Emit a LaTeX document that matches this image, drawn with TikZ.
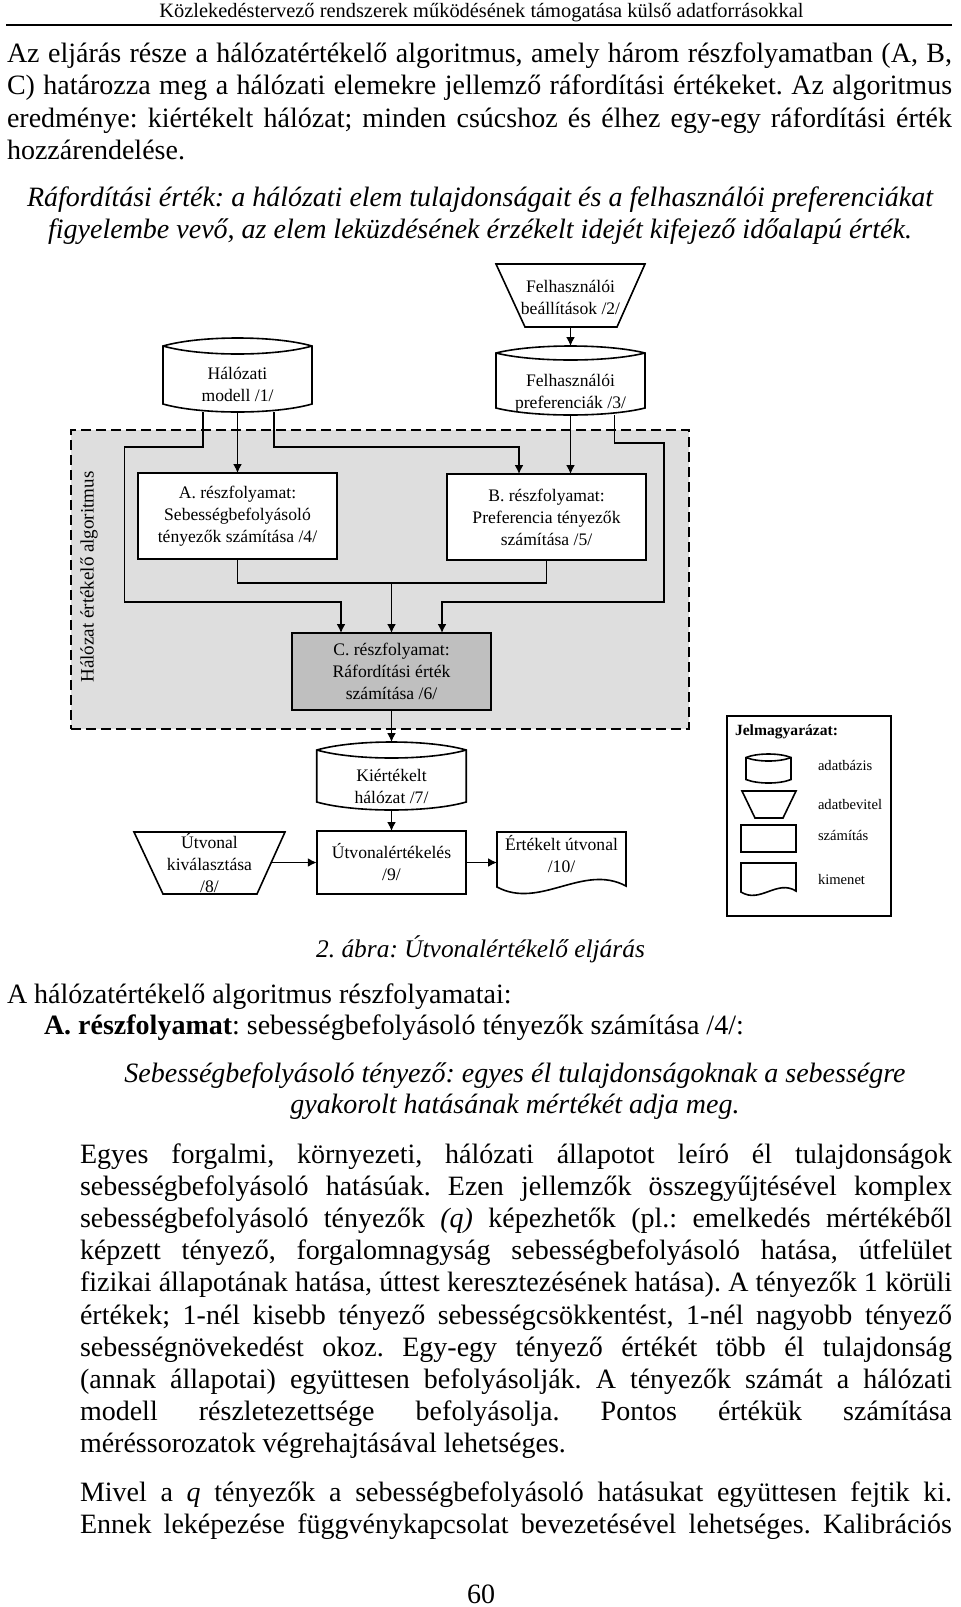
\documentclass[tikz,border=0pt]{standalone}
\usepackage{fontspec}
\setmainfont{Liberation Serif}
\usetikzlibrary{arrows.meta,fit}

\newcommand\fsz[2]{\fontsize{#1}{#2}\selectfont}
\newcommand\jl[2]{\hbox to #1{#2}}

% cylinder (database): name, L, T, R, B, d
\newcommand\cylshape[6]{%
  \node[fit={(#2,#3)(#4,#5)}, inner sep=0pt] (#1) {};
  \filldraw[ln, fill=white] (#2,{#3+#6}) .. controls ({#2+0.25*(#4-#2)},{#3-#6/3}) and ({#4-0.25*(#4-#2)},{#3-#6/3}) .. (#4,{#3+#6}) -- (#4,{#5-#6}) .. controls ({#4-0.25*(#4-#2)},{#5+#6/3}) and ({#2+0.25*(#4-#2)},{#5+#6/3}) .. (#2,{#5-#6}) -- cycle;
  \draw[ln] (#2,{#3+#6}) .. controls ({#2+0.25*(#4-#2)},{#3+7*#6/3}) and ({#4-0.25*(#4-#2)},{#3+7*#6/3}) .. (#4,{#3+#6});
}
% trapezoid (input): name, TL, TR, T, BL, BR, B
\newcommand\trapshape[7]{%
  \node[fit={(#2,#4)(#3,#7)}, inner sep=0pt] (#1) {};
  \filldraw[ln, fill=white] (#2,#4) -- (#3,#4) -- (#6,#7) -- (#5,#7) -- cycle;
}
% document (output): name, L, T, R, Bleft, Bright, controls
\newcommand\docshape[7]{%
  \node[fit={(#2,#3)(#4,#5)}, inner sep=0pt] (#1) {};
  \filldraw[ln, fill=white] (#2,#3) -- (#4,#3) -- (#4,#6) .. controls #7 .. (#2,#5) -- cycle;
}

\tikzset{
  every node/.style={inner sep=0pt, outer sep=0pt},
  ln/.style={line width=0.8pt},
  arr/.style={ln, -{Latex[length=4.5pt,width=4.5pt]}},
  bx/.style={font=\fsz{8.8}{11}, align=center},
  proc/.style={bx, draw, ln, fill=white},
  body/.style={font=\fsz{14}{16}, anchor=base west},
  ital/.style={font=\fsz{14}{16}\itshape, anchor=base},
  legtxt/.style={font=\fsz{7.3}{9}, anchor=base west},
}

\begin{document}
\frenchspacing
\begin{tikzpicture}[x=0.5pt,y=-0.5pt]
\useasboundingbox (0,0) rectangle (960,1607);
\fill[white] (0,0) rectangle (960,1607);

% header
\node[font=\fsz{10.2}{12}, anchor=base] (hdr) at (481.5,17.5) {Közlekedéstervező rendszerek működésének támogatása külső adatforrásokkal};
\coordinate (rl) at (6,25);
\coordinate (rr) at (952,25);
\draw[line width=0.85pt] (rl) -- (rr);

% first paragraph
\node[body] (p1) at (7,62) {\jl{472.5pt}{Az eljárás része a hálózatértékelő algoritmus, amely három részfolyamatban (A, B,}};
\node[body] (p2) at (7,94.5) {\jl{472.5pt}{C) határozza meg a hálózati elemekre jellemző ráfordítási értékeket. Az algoritmus}};
\node[body] (p3) at (7,127) {\jl{472.5pt}{eredménye: kiértékelt hálózat; minden csúcshoz és élhez egy-egy ráfordítási érték}};
\node[body] (p4) at (7,159) {hozzárendelése.};

\node[ital] (d1) at (480,206.5) {Ráfordítási érték: a hálózati elem tulajdonságait és a felhasználói preferenciákat};
\node[ital] (d2) at (480,238) {figyelembe vevő, az elem leküzdésének érzékelt idejét kifejező időalapú érték.};

% ---------------- diagram ----------------
\node[fit={(71,430)(689,729)}, inner sep=0pt, draw, ln, dash pattern=on 5pt off 2.5pt, fill=black!13] (reg) {};
\node[font=\fsz{9.5}{11}, rotate=90] (vlab) at (89,577) {Hálózat értékelő algoritmus};

\trapshape{n2}{496}{645}{264}{525}{617}{327}
\node[bx] (n2t) at (570.5,297) {Felhasználói\\beállítások /2/};

\cylshape{c3}{496}{346}{645}{415}{7}
\node[bx] (c3t) at (570.5,393) {Felhasználói\\preferenciák /3/};

\cylshape{c1}{163}{338}{312}{412}{8}
\node[bx] (c1t) at (237.5,384) {Hálózati\\modell /1/};

\node[proc, minimum width=99.5pt, minimum height=43pt] (A) at (237.5,516) {A. részfolyamat:\\Sebességbefolyásoló\\tényezők számítása /4/};
\node[proc, minimum width=99.5pt, minimum height=43pt] (B) at (546.5,517) {B. részfolyamat:\\Preferencia tényezők\\számítása /5/};
\node[proc, fill=black!25, minimum width=99.5pt, minimum height=38.5pt] (C) at (391.5,671.5) {C. részfolyamat:\\Ráfordítási érték\\számítása /6/};

\cylshape{c7}{316.75}{742}{466.25}{810}{8}
\node[bx] (c7t) at (391.5,786) {Kiértékelt\\hálózat /7/};

\node[proc, minimum width=74.75pt, minimum height=31.5pt] (N9) at (391.5,862.5) {Útvonalértékelés\\/9/};
\trapshape{n8}{134}{285}{832}{163}{257}{894}
\node[bx] (n8t) at (209.5,863) {Útvonal\\kiválasztása\\/8/};
\docshape{n10}{497}{832}{626}{887}{886}{(583,863) and (540,910)}
\node[bx] (n10t) at (561.5,854) {Értékelt útvonal\\/10/};

% connectors
\coordinate (wa1) at (124.5,447);
\coordinate (wa2) at (341,602);
\coordinate (wc1) at (519,447);
\coordinate (we1) at (664,443);
\coordinate (we2) at (442,602);
\coordinate (jn) at (391.5,583);
\coordinate (n8e) at (271.2,862.5);

\draw[arr] (n2.south) -- (c3.north);
\draw[arr] ([xshift=-17.25pt]c1.south) |- (wa1) |- (wa2) -- (wa2 |- C.north);
\draw[arr] (c1.south) -- (A.north);
\draw[arr] ([xshift=18.25pt]c1.south) |- (wc1) -- (wc1 |- B.north);
\draw[arr] (c3.south) -- (c3.south |- B.north);
\draw[arr] ([xshift=22pt]c3.south) |- (we1) |- (we2) -- (we2 |- C.north);
\draw[ln] (A.south) |- (jn) -| (B.south);
\draw[arr] (jn) -- (C.north);
\draw[arr] (C.south) -- (c7.north);
\draw[arr] (c7.south) -- (N9.north);
\draw[arr] (n8e) -- (N9.west);
\draw[arr] (N9.east) -- (N9.east -| n10.west);

% legend
\node[fit={(727,716)(891,916)}, inner sep=0pt, draw, line width=1pt] (leg) {};
\node[font=\fsz{7.8}{9}\bfseries, anchor=base west] (legt) at (735,735.5) {Jelmagyarázat:};
\cylshape{lcyl}{746}{754}{791}{783}{3.5}
\node[legtxt] (lt1) at (818,770.5) {adatbázis};
\trapshape{ltrap}{742}{796}{791}{755}{783}{818}
\node[legtxt] (lt2) at (818,809.5) {adatbevitel};
\node[fit={(741,825)(796,852)}, inner sep=0pt, draw, ln] (lrect) {};
\node[legtxt] (lt3) at (818,840.5) {számítás};
\docshape{ldoc}{741}{863}{796}{892}{891}{(777,879) and (760,904)}
\node[legtxt] (lt4) at (818,884.5) {kimenet};

% caption
\node[font=\fsz{12.7}{15}\itshape, anchor=base] (cap) at (480.5,957) {2. ábra: Útvonalértékelő eljárás};

% following text
\node[body] (s1) at (7,1003) {A hálózatértékelő algoritmus részfolyamatai:};
\node[body] (s2) at (44,1034) {\textbf{A. részfolyamat}: sebességbefolyásoló tényezők számítása /4/:};
\node[ital] (e1) at (515,1082) {Sebességbefolyásoló tényező: egyes él tulajdonságoknak a sebességre};
\node[ital] (e2) at (515,1113) {gyakorolt hatásának mértékét adja meg.};

\node[body] (b1) at (80,1163) {\jl{436pt}{Egyes forgalmi, környezeti, hálózati állapotot leíró él tulajdonságok}};
\node[body] (b2) at (80,1195.2) {\jl{436pt}{sebességbefolyásoló hatásúak. Ezen jellemzők összegyűjtésével komplex}};
\node[body] (b3) at (80,1227.4) {\jl{436pt}{sebességbefolyásoló tényezők \textit{(q)} képezhetők (pl.: emelkedés mértékéből}};
\node[body] (b4) at (80,1259.6) {\jl{436pt}{képzett tényező, forgalomnagyság sebességbefolyásoló hatása, útfelület}};
\node[body] (b5) at (80,1291.8) {\jl{436pt}{fizikai állapotának hatása, úttest keresztezésének hatása). A tényezők 1 körüli}};
\node[body] (b6) at (80,1324) {\jl{436pt}{értékek; 1-nél kisebb tényező sebességcsökkentést, 1-nél nagyobb tényező}};
\node[body] (b7) at (80,1356.2) {\jl{436pt}{sebességnövekedést okoz. Egy-egy tényező értékét több él tulajdonság}};
\node[body] (b8) at (80,1388.4) {\jl{436pt}{(annak állapotai) együttesen befolyásolják. A tényezők számát a hálózati}};
\node[body] (b9) at (80,1420.6) {\jl{436pt}{modell részletezettsége befolyásolja. Pontos értékük számítása}};
\node[body] (b10) at (80,1452.8) {méréssorozatok végrehajtásával lehetséges.};

\node[body] (m1) at (80,1501) {\jl{436pt}{Mivel a \textit{q} tényezők a sebességbefolyásoló hatásukat együttesen fejtik ki.}};
\node[body] (m2) at (80,1533) {\jl{436pt}{Ennek leképezése függvénykapcsolat bevezetésével lehetséges. Kalibrációs}};

\node[font=\fsz{14}{16}, anchor=base] (pg) at (481,1603) {60};
\end{tikzpicture}
\end{document}
